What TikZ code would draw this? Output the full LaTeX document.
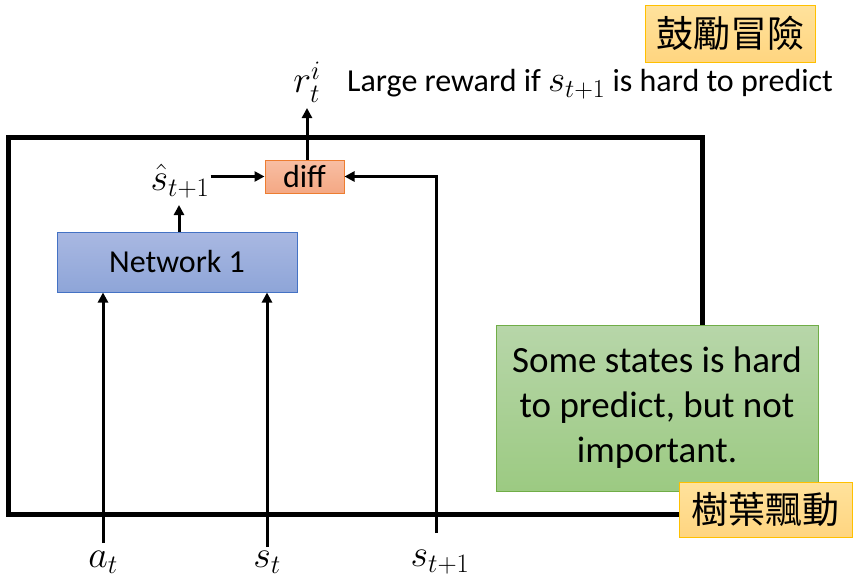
\RequirePackage{fix-cm}
\documentclass[tikz,border=0pt]{standalone}
\usepackage{fontspec}
\setmainfont{Carlito}
\newfontfamily\cjk{Noto Sans CJK TC}
\usetikzlibrary{arrows.meta,calc}
\definecolor{netTop}{RGB}{169,184,226}
\definecolor{netBot}{RGB}{142,165,216}
\definecolor{netLine}{RGB}{68,114,196}
\definecolor{diffTop}{RGB}{248,190,163}
\definecolor{diffBot}{RGB}{244,168,132}
\definecolor{diffLine}{RGB}{237,125,49}
\definecolor{grTop}{RGB}{183,214,169}
\definecolor{grBot}{RGB}{156,202,130}
\definecolor{grLine}{RGB}{112,173,71}
\definecolor{orTop}{RGB}{255,226,156}
\definecolor{orBot}{RGB}{255,213,128}
\definecolor{orLine}{RGB}{255,192,0}
\tikzset{
  arr/.style={line width=3pt,-{Triangle[length=10pt,width=10pt]}},
  netbox/.style={draw=netLine,line width=1pt,top color=netTop,bottom color=netBot,minimum width=240pt,minimum height=60pt,inner sep=0pt,font=\fontsize{32}{36}\selectfont},
  diffbox/.style={draw=diffLine,line width=1pt,top color=diffTop,bottom color=diffBot,minimum width=79pt,minimum height=33pt,inner sep=0pt,font=\fontsize{32}{36}\selectfont},
  greenbox/.style={draw=grLine,line width=1pt,top color=grTop,bottom color=grBot,minimum width=322pt,minimum height=166pt,inner sep=0pt,align=center,font=\fontsize{37}{45}\selectfont},
  cnbox/.style={draw=orLine,line width=1pt,top color=orTop,bottom color=orBot,inner sep=0pt,font=\cjk\fontsize{37}{42}\selectfont},
  mathlbl/.style={inner sep=1pt,font=\fontsize{38}{42}\selectfont},
  txt/.style={inner sep=0pt,font=\fontsize{32}{36}\selectfont}
}
\newcommand{\bigmath}[1]{{\fontsize{37}{40}\selectfont$#1$}}
\begin{document}
\begin{tikzpicture}[x=1pt,y=-1pt]
\useasboundingbox (0,0) rectangle (856,581);
% frame
\draw[line width=5pt] (8,137) rectangle (702,514);
% nodes
\node[netbox] (net) at (177,262) {Network 1};
\node[diffbox] (diff) at (304.5,176.5) {diff};
\node[mathlbl] (shat) at (180,181) {$\hat{s}_{t+1}$};
\node[mathlbl] (r) at (307,82) {$r_t^i$};
\node[txt,anchor=west] (large) at (347,84) {Large reward if \bigmath{s_{t+1}} is hard to predict};
\node[cnbox,minimum width=170pt,minimum height=57pt] (top) at (730,33.5) {鼓勵冒險};
\node[greenbox] (green) at (657,408) {Some states is hard\\to predict, but not\\important.};
\node[cnbox,minimum width=173pt,minimum height=55pt] (leaf) at (765.5,509.5) {樹葉飄動};
\node[mathlbl] (at) at (103,562) {$a_t$};
\node[mathlbl] (st) at (267,562) {$s_t$};
\node[mathlbl] (st1) at (440,562) {$s_{t+1}$};
\coordinate (atb) at (103,543);
\coordinate (stb) at (267,547);
\coordinate (st1b) at (436,533);
\coordinate (st1c) at (436,176.5);
\coordinate (shatb) at (179,205);
\coordinate (rb) at (307,108);
% connectors
\draw[arr] (atb) -- (atb |- net.south);
\draw[arr] (stb) -- (stb |- net.south);
\draw[arr] (shatb |- net.north) -- (shatb);
\draw[arr] (shat.east |- diff.west) -- (diff.west);
\draw[arr] (st1b) -- (st1c) -- (diff.east);
\draw[arr] (diff.north -| rb) -- (rb);
\end{tikzpicture}
\end{document}
